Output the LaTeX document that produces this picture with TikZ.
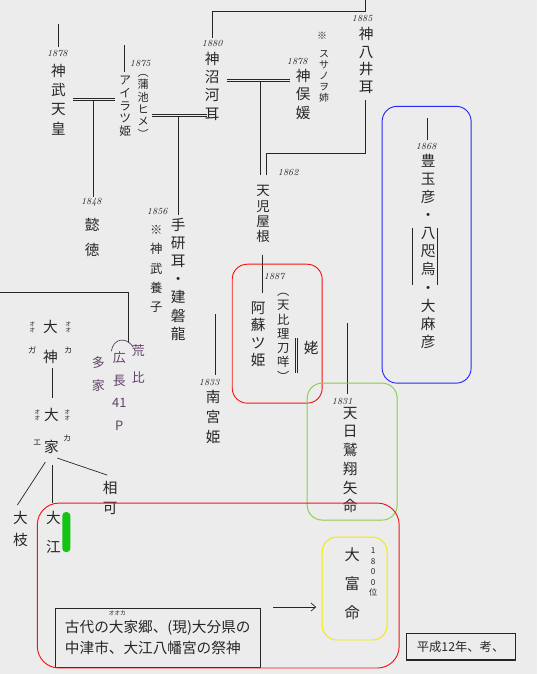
\documentclass[tikz,border=0pt]{standalone}
\usepackage{fontspec}
\newfontfamily\jp{Noto Sans CJK JP}
\usetikzlibrary{arrows.meta}

\definecolor{ink}{gray}{0.15}
\definecolor{bg}{gray}{0.925}
\definecolor{murasaki}{RGB}{95,65,105}
\definecolor{wakured}{RGB}{245,20,20}
\definecolor{wakublue}{RGB}{40,40,250}
\definecolor{wakugreen}{RGB}{140,205,70}
\definecolor{wakuyellow}{RGB}{240,235,0}
\definecolor{marker}{RGB}{20,195,20}

% vertical writing: one character per line
\makeatletter
\newcommand\tate[1]{\vbox{\@tfor\tate@ji:=#1\do{\hbox to 1em{\hss\tate@ji\hss}}}}
\makeatother

\begin{document}
\begin{tikzpicture}[x=0.03cm, y=-0.03cm,
    mei/.style={inner sep=0pt, text=ink, font=\jp\fontsize{12.5}{15.5}\selectfont},
    chu/.style={inner sep=0pt, text=ink, font=\jp\fontsize{8.5}{9.5}\selectfont},
    furi/.style={inner sep=0pt, text=ink, font=\jp\fontsize{5}{5.5}\selectfont},
    toshi/.style={inner sep=0pt, text=ink, font=\fontsize{8}{8}\selectfont\itshape},
    sen/.style={draw=ink, line width=0.6pt},
    fuufu/.style={draw=ink, double=bg, double distance=1.2pt, line width=0.5pt},
    waku/.style={line width=0.8pt, rounded corners=4.5mm},
  ]
    % Background
    \fill[bg] (0,0) rectangle (537,674);

    % Top line (神八井耳 - 神沼河耳)
    \coordinate (ue1) at (365,0);
    \coordinate (ue2) at (365,11);
    \coordinate (ue3) at (212,11);
    \coordinate (ue4) at (212,38);
    \draw[sen] (ue1) -- (ue2) -- (ue3) -- (ue4);

    % 神八井耳
    \node[toshi] (t1885) at (362,18) {1885};
    \node[mei, font=\jp\fontsize{12.5}{15}\selectfont] (kamuyai) at (366,60) {\tate{神八井耳}};

    % 神沼河耳
    \node[toshi] (t1880) at (212,43) {1880};
    \node[mei] (kamununa) at (212,86) {\tate{神沼河耳}};

    % 神俣媛
    \node[chu] (kome1) at (322,35) {※};
    \node[chu] (susa) at (324,76) {\tate{スサノヲ姉}};
    \node[toshi] (t1878b) at (297,61) {1878};
    \node[mei] (kamumata) at (303,94) {\tate{神俣媛}};

    % 神武天皇
    \coordinate (jn1) at (58,24);
    \coordinate (jn2) at (58,47);
    \draw[sen] (jn1) -- (jn2);
    \node[toshi] (t1878a) at (57,53) {1878};
    \node[mei, font=\jp\fontsize{12.5}{16.5}\selectfont] (jinmu) at (58,99) {\tate{神武天皇}};

    % アイラツ姫 (蒲池ヒメ)
    \coordinate (ai1) at (124,45);
    \coordinate (ai2) at (124,72);
    \draw[sen] (ai1) -- (ai2);
    \node[toshi] (t1875) at (140,63) {1875};
    \node[mei, font=\jp\fontsize{10}{10.8}\selectfont] (aira) at (125,106) {\tate{アイラツ姫}};
    \node[mei, font=\jp\fontsize{9.5}{10.6}\selectfont] (kamachi) at (143,106) {\tate{︵蒲池ヒメ︶}};

    % 神武天皇 = アイラツ姫 -> 懿徳
    \coordinate (jf1) at (73,99);
    \coordinate (jf2) at (115,99);
    \coordinate (jf3) at (93,100);
    \coordinate (jf4) at (93,197);
    \draw[fuufu] (jf1) -- (jf2);
    \draw[sen] (jf3) -- (jf4);
    \node[toshi] (t1848) at (91,202) {1848};
    \node[mei, font=\jp\fontsize{12.5}{21}\selectfont] (itoku) at (92,237) {\tate{懿徳}};

    % アイラツ姫 = 神沼河耳 -> 手研耳
    \coordinate (af1) at (152,115);
    \coordinate (af2) at (207,115);
    \coordinate (af3) at (178,117);
    \coordinate (af4) at (178,215);
    \draw[fuufu] (af1) -- (af2);
    \draw[sen] (af3) -- (af4);
    \node[toshi] (t1856) at (157,211) {1856};
    \node[mei, font=\jp\fontsize{10.5}{16.5}\selectfont] (yoshi) at (156,269) {\tate{※神武養子}};
    \node[mei] (tagishi) at (178,279) {\tate{手研耳・建磐龍}};

    % 神沼河耳 = 神俣媛 -> 天児屋根
    \coordinate (kf1) at (227,80);
    \coordinate (kf2) at (290,80);
    \coordinate (kf3) at (260,81);
    \coordinate (kf4) at (260,175);
    \draw[fuufu] (kf1) -- (kf2);
    \draw[sen] (kf3) -- (kf4);
    % 神八井耳 -> 天児屋根
    \coordinate (ky1) at (365,100);
    \coordinate (ky2) at (365,153);
    \coordinate (ky3) at (266,153);
    \coordinate (ky4) at (266,175);
    \draw[sen] (ky1) -- (ky2) -- (ky3) -- (ky4);
    \node[toshi] (t1862) at (288,172) {1862};
    \node[mei, font=\jp\fontsize{11.5}{13}\selectfont] (koyane) at (263,214) {\tate{天児屋根}};

    % 天児屋根 -> 阿蘇ツ姫
    \coordinate (ko1) at (262,255);
    \coordinate (ko2) at (262,293);
    \draw[sen] (ko1) -- (ko2);
    \node[toshi] (t1887) at (274,276) {1887};
    \node[mei, font=\jp\fontsize{12.5}{14.8}\selectfont] (aso) at (258,334) {\tate{阿蘇ツ姫}};
    \node[mei, font=\jp\fontsize{10.5}{12.2}\selectfont] (hiri) at (283,337) {\tate{︵天比理刀咩︶}};
    \coordinate (ub1) at (296.5,338);
    \coordinate (ub2) at (296.5,373);
    \draw[fuufu] (ub1) -- (ub2);
    \node[mei] (uba) at (311,348) {姥};

    % 建磐龍 = 阿蘇ツ姫 -> 南宮姫
    \coordinate (tf1) at (185,313);
    \coordinate (tf2) at (250,313);
    \coordinate (tf3) at (215,314);
    \coordinate (tf4) at (215,375);
    \draw[fuufu] (tf1) -- (tf2);
    \draw[sen] (tf3) -- (tf4);
    \node[toshi] (t1833) at (209,382) {1833};
    \node[mei, font=\jp\fontsize{12.5}{17}\selectfont] (minami) at (213,417) {\tate{南宮姫}};

    % 豊玉彦・八咫烏・大麻彦
    \coordinate (to1) at (427,118);
    \coordinate (to2) at (427,140);
    \draw[sen] (to1) -- (to2);
    \node[toshi] (t1868) at (426,146) {1868};
    \node[mei] (toyotama) at (428,251) {\tate{豊玉彦・八咫烏・大麻彦}};
    \coordinate (yk1) at (412,228);
    \coordinate (yk2) at (412,285);
    \coordinate (yk3) at (437,228);
    \coordinate (yk4) at (437,285);
    \draw[sen] (yk1) -- (yk2);
    \draw[sen] (yk3) -- (yk4);

    % 阿蘇ツ姫 = 豊玉彦 -> 天日鷲翔矢命
    \coordinate (hf1) at (292,322);
    \coordinate (hf2) at (412,322);
    \coordinate (hf3) at (347,323);
    \coordinate (hf4) at (347,394);
    \draw[fuufu] (hf1) -- (hf2);
    \draw[sen] (hf3) -- (hf4);
    \node[toshi] (t1831) at (342,401) {1831};
    \node[mei, font=\jp\fontsize{12.5}{16}\selectfont] (washi) at (350,460) {\tate{天日鷲翔矢命}};

    % 天日鷲翔矢命 -> 大富命
    \coordinate (wa1) at (350,522);
    \coordinate (wa2) at (350,547);
    \draw[fuufu] (wa1) -- (wa2);
    \node[mei, font=\jp\fontsize{13}{24.7}\selectfont] (tomi) at (352,584) {\tate{大富命}};
    \node[mei, font=\jp\fontsize{7}{9}\selectfont] (tomi1800) at (373,572) {\tate{1800位}};

    % Left line -> 多家
    \coordinate (hi1) at (0,292);
    \coordinate (hi2) at (128,292);
    \coordinate (hi3) at (128,343);
    \draw[sen] (hi1) -- (hi2) -- (hi3);
    \coordinate (ka1) at (111,351);
    \coordinate (ka2) at (133,347);
    \draw[murasaki, line width=0.6pt] (ka1) .. controls (113,338) and (126,336) .. (ka2);
    \node[mei, text=murasaki, font=\jp\fontsize{11}{23}\selectfont] (araki) at (138,364) {\tate{荒比}};
    \node[mei, text=murasaki, font=\jp\fontsize{11}{19.5}\selectfont] (hironaga) at (119,391) {\tate{広長{41}P}};
    \node[mei, text=murasaki, font=\jp\fontsize{11}{19.5}\selectfont] (ooie) at (98,374) {\tate{多家}};

    % 大神 -> 大家
    \node[mei, font=\jp\fontsize{12.5}{25.5}\selectfont] (ooga) at (50,342) {\tate{大神}};
    \node[furi] (fg1) at (32,327) {\tate{オオ}};
    \node[furi, font=\jp\fontsize{7}{7}\selectfont] (fg2) at (32,350) {ガ};
    \node[furi] (fg3) at (68,327) {\tate{オオ}};
    \node[furi, font=\jp\fontsize{7}{7}\selectfont] (fg4) at (68,350) {カ};
    \coordinate (og1) at (52,368);
    \coordinate (og2) at (52,398);
    \draw[sen] (og1) -- (og2);
    \node[mei, font=\jp\fontsize{12.5}{27}\selectfont] (ooka) at (51,431) {\tate{大家}};
    \node[furi] (fk1) at (37,415) {\tate{オオ}};
    \node[furi, font=\jp\fontsize{7}{7}\selectfont] (fk2) at (37,443) {エ};
    \node[furi] (fk3) at (67,415) {\tate{オオ}};
    \node[furi, font=\jp\fontsize{7}{7}\selectfont] (fk4) at (67,438) {カ};

    % 大家 -> 大枝, 大江, 相可
    \node[mei, font=\jp\fontsize{12.5}{19}\selectfont] (ooeda) at (20,529) {\tate{大枝}};
    \node[mei, font=\jp\fontsize{12.5}{24.5}\selectfont] (ooe) at (53,532) {\tate{大江}};
    \node[mei, font=\jp\fontsize{12.5}{17}\selectfont] (ouka) at (110,498) {\tate{相可}};
    \coordinate (ks1) at (45,462);
    \coordinate (ks2) at (17,505);
    \coordinate (ks3) at (52,465);
    \coordinate (ks4) at (52,503);
    \coordinate (ks5) at (57,458);
    \coordinate (ks6) at (107,475);
    \draw[sen] (ks1) -- (ks2);
    \draw[sen] (ks3) -- (ks4);
    \draw[sen] (ks5) -- (ks6);
    \fill[marker, rounded corners=3pt] (62,512) rectangle (70,552);

    % Note box and arrow
    \node[draw=ink, line width=0.8pt, minimum width=6.15cm, minimum height=1.77cm,
          align=left, text=ink, font=\jp\fontsize{12.5}{18}\selectfont]
          (setsumei) at (157.5,637.5) {古代の大家郷、(現)大分県の\\中津市、大江八幡宮の祭神};
    \node[furi] (furioka) at (117,613) {オオカ};
    \coordinate (ya1) at (273,607);
    \coordinate (ya2) at (316,607);
    \draw[sen, -{Straight Barb[length=4pt, width=7pt]}] (ya1) -- (ya2);

    % Date box
    \node[draw=ink, line width=0.9pt, minimum width=3.27cm, minimum height=0.81cm,
          text=ink, font=\jp\fontsize{10.5}{12}\selectfont]
          (heisei) at (460.5,646.5) {平成12年、考、};

    % Coloured frames
    \draw[waku, wakured] (232,264) rectangle (322,403);
    \draw[waku, wakublue] (382,106) rectangle (471,383);
    \draw[waku, wakugreen] (307,383) rectangle (397,520);
    \draw[waku, wakuyellow] (322,537) rectangle (387,640);
    \draw[waku, wakured, rounded corners=6.5mm] (37,503) rectangle (399,668);
\end{tikzpicture}
\end{document}
